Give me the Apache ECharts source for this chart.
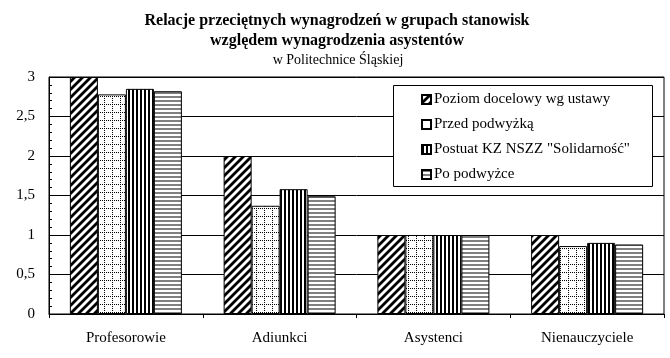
<!DOCTYPE html>
<html><head><meta charset="utf-8">
<script src="https://cdn.jsdelivr.net/npm/echarts@6/dist/echarts.min.js"></script>
<style>html,body{margin:0;padding:0;background:#fff}#c{width:670px;height:358px}</style>
</head><body><div id="c"></div>
<script>
const titleLines = ['Relacje przeciętnych wynagrodzeń w grupach stanowisk', 'względem wynagrodzenia asystentów'];
const subtitle = 'w Politechnice Śląskiej';
const categories = ['Profesorowie', 'Adiunkci', 'Asystenci', 'Nienauczyciele'];
const seriesNames = ['Poziom docelowy wg ustawy', 'Przed podwyżką', 'Postuat KZ NSZZ "Solidarność"', 'Po podwyżce'];
const poziomDocelowy = [3.0, 2.0, 1.0, 1.0];
const przedPodwyzka = [2.78, 1.37, 1.0, 0.86];
const postulat = [2.85, 1.58, 1.0, 0.90];
const poPodwyzce = [2.82, 1.49, 1.0, 0.88];
const yTicks = [0, 0.5, 1, 1.5, 2, 2.5, 3];

const FONT = '"Liberation Serif", "Times New Roman", serif';
function mk(w, h, draw) {
  const c = document.createElement('canvas');
  c.width = w; c.height = h;
  const g = c.getContext('2d');
  g.fillStyle = '#fff'; g.fillRect(0, 0, w, h);
  draw(g);
  return { image: c, repeat: 'repeat' };
}
const pDiag = mk(8, 8, g => {
  g.strokeStyle = '#000'; g.lineWidth = 2.8; g.lineCap = 'square';
  [[-8, 8, 8, -8], [0, 8, 8, 0], [0, 16, 16, 0]].forEach(l => { g.beginPath(); g.moveTo(l[0], l[1]); g.lineTo(l[2], l[3]); g.stroke(); });
});
const pDot = mk(8, 8, g => {
  g.fillStyle = '#000';
  for (let i = 0; i < 8; i += 2) { g.fillRect(i, 0, 1, 1); g.fillRect(0, i, 1, 1); }
});
const pVert = mk(4, 4, g => { g.fillStyle = '#000'; g.fillRect(0, 0, 2, 4); });
const pHorz = mk(4, 4, g => { g.fillStyle = '#808080'; g.fillRect(0, 0, 4, 2); });

function txt(text, font, cx, cy) {
  return { type: 'text', x: cx, y: cy, z: 10,
    style: { text: text, font: font, fill: '#000', textAlign: 'center', textVerticalAlign: 'middle' } };
}

const chart = echarts.init(document.getElementById('c'), null, { renderer: 'canvas' });
const values = [poziomDocelowy, przedPodwyzka, postulat, poPodwyzce];
const pats = [pDiag, pDot, pVert, pHorz];
chart.setOption({
  animation: false,
  backgroundColor: '#fff',
  textStyle: { fontFamily: FONT, color: '#000' },
  graphic: [
    txt(titleLines[0], 'bold 16px ' + FONT, 337, 20.5),
    txt(titleLines[1], 'bold 16px ' + FONT, 337, 41),
    txt(subtitle, '14px ' + FONT, 338, 60.5),
    { type: 'rect', shape: { x: 393.5, y: 85.5, width: 259, height: 101 }, style: { fill: '#fff', stroke: '#000', lineWidth: 1 }, z: 5 }
  ],
  legend: {
    orient: 'vertical', left: 421, top: 92, itemWidth: 9, itemHeight: 9, itemGap: 10, padding: 0, z: 6,
    icon: 'rect',
    textStyle: { fontFamily: FONT, fontSize: 15, color: '#000', padding: [0, 0, 0, -2] },
    data: seriesNames
  },
  grid: { left: 49, right: 6, top: 77, bottom: 44, show: true, borderColor: '#000', borderWidth: 1, backgroundColor: 'transparent' },
  xAxis: {
    type: 'category', data: categories,
    axisLine: { lineStyle: { color: '#000', width: 1 } },
    axisTick: { show: true, length: 4, lineStyle: { color: '#000' } },
    axisLabel: { fontFamily: FONT, fontSize: 15, color: '#000', margin: 17 }
  },
  yAxis: {
    type: 'value', min: 0, max: 3, interval: 0.5,
    axisLine: { show: true, lineStyle: { color: '#000' } },
    axisTick: { show: true, inside: true, length: 3, lineStyle: { color: '#000' } },
    minorTick: { show: true, splitNumber: 5, length: 3, lineStyle: { color: '#000' } },
    splitLine: { show: true, lineStyle: { color: '#000', width: 1 } },
    axisLabel: { fontFamily: FONT, fontSize: 15, color: '#000', margin: 14,
      formatter: v => yTicks.includes(v) ? String(v).replace('.', ',') : '' }
  },
  series: values.map((d, i) => ({
    name: seriesNames[i], type: 'bar', data: d, barWidth: 28, barGap: '0%',
    itemStyle: { color: pats[i], borderColor: '#000', borderWidth: 1 }
  }))
});
</script></body></html>
